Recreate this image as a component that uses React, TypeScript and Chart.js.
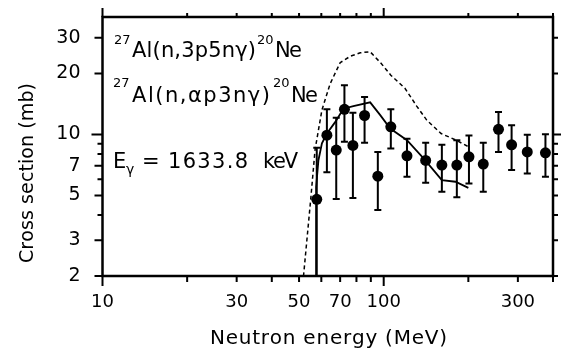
import React, { useEffect, useRef } from 'react';
import { Chart, registerables } from 'chart.js';

Chart.register(...registerables);

// Measured points: neutron energy (MeV), cross section (mb), error bar ends
const energies = [57.8, 62.8, 67.8, 72.5, 77.7, 85.5, 95.3, 106, 121, 141, 161, 182, 201, 226, 256, 285, 324, 376];
const sigma = [4.78, 9.92, 8.37, 13.3, 8.83, 12.4, 6.22, 10.9, 7.84, 7.44, 7.06, 7.06, 7.75, 7.14, 10.6, 8.89, 8.2, 8.11];
const errHigh = [8.6, 13.3, 12.1, 17.5, 12.8, 15.3, 8.2, 13.3, 9.51, 9.1, 8.89, 9.37, 9.89, 9.09, 12.9, 11.1, 9.95, 10.03];
const errLow = [2.0, 6.5, 4.8, 9.2, 4.86, 9.1, 4.23, 8.53, 6.18, 5.77, 5.21, 4.89, 5.73, 5.21, 8.2, 6.67, 6.42, 6.18];

// Calculation for 27Al(n,ap3ng)20Ne (solid)
const calcSolidE = [57.5, 57.5, 58.6, 60.3, 62.8, 67.2, 71.9, 78, 89.5, 97.2, 105.5, 121, 138.6, 161, 180, 200];
const calcSolidS = [1.5, 5.5, 7.46, 9.03, 10.1, 11.5, 13.4, 13.8, 14.4, 12.45, 10.7, 9.37, 7.61, 5.95, 5.84, 5.45];

// Calculation for 27Al(n,3p5ng)20Ne (dashed)
const calcDashE = [51.3, 53.3, 55.1, 57, 60.3, 64.5, 70, 76, 82.5, 89.5, 98, 106, 119, 131, 142, 160, 180, 200];
const calcDashS = [1.7, 3.0, 4.9, 8.4, 13.2, 17.8, 22.6, 24.3, 25.3, 25.6, 22.4, 19.6, 16.9, 13.8, 11.8, 10.1, 9.4, 8.7];

const xTickValues = [10, 20, 30, 40, 50, 60, 70, 80, 90, 100, 200, 300, 400];
const xTickLabels = [10, 30, 50, 70, 100, 300];
const xMajorTicks = [10, 100];
const yTickValues = [2, 3, 4, 5, 6, 7, 8, 9, 10, 20, 30];
const yTickLabels = [2, 3, 5, 7, 10, 20, 30];
const yMajorTicks = [10];

const FONT = "'DejaVu Sans', 'Liberation Sans', sans-serif";

function fitText(ctx: CanvasRenderingContext2D, text: string, x: number, y: number, size: number, width?: number) {
  ctx.font = `${size}px ${FONT}`;
  ctx.textAlign = 'left';
  ctx.textBaseline = 'alphabetic';
  const chars = Array.from(text);
  if (!width || chars.length < 2) {
    ctx.fillText(text, x, y);
    return;
  }
  const widths = chars.map((c) => ctx.measureText(c).width);
  const natural = widths.reduce((a, b) => a + b, 0);
  const extra = (width - natural) / (chars.length - 1);
  let cx = x;
  chars.forEach((c, i) => {
    ctx.fillText(c, cx, y);
    cx += widths[i] + extra;
  });
}

const framePlugin = {
  id: 'framePlugin',
  afterDatasetsDraw(chart: any) {
    const { ctx, chartArea: a, scales } = chart;
    const xs = scales.x;
    const ys = scales.y;
    ctx.save();
    ctx.strokeStyle = '#000';
    ctx.fillStyle = '#000';
    ctx.lineCap = 'butt';

    // error bars
    ctx.lineWidth = 2;
    energies.forEach((e, i) => {
      const px = xs.getPixelForValue(e);
      const yh = ys.getPixelForValue(errHigh[i]);
      const yl = Math.min(ys.getPixelForValue(Math.max(errLow[i], 2)), a.bottom);
      ctx.beginPath();
      ctx.moveTo(px, yh);
      ctx.lineTo(px, yl);
      ctx.moveTo(px - 3.5, yh);
      ctx.lineTo(px + 3.5, yh);
      if (errLow[i] > 2) {
        ctx.moveTo(px - 3.5, yl);
        ctx.lineTo(px + 3.5, yl);
      }
      ctx.stroke();
    });

    // frame
    ctx.lineWidth = 2.5;
    ctx.strokeRect(a.left, a.top, a.right - a.left, a.bottom - a.top);

    // ticks
    ctx.lineWidth = 2;
    ctx.beginPath();
    xTickValues.forEach((v) => {
      const px = xs.getPixelForValue(v);
      const major = xMajorTicks.includes(v);
      ctx.moveTo(px, a.bottom);
      ctx.lineTo(px, a.bottom + (major ? 10 : 6));
      ctx.moveTo(px, a.top);
      ctx.lineTo(px, a.top - (major ? 9 : 4));
    });
    yTickValues.forEach((v) => {
      const py = ys.getPixelForValue(v);
      const major = yMajorTicks.includes(v);
      const labeled = yTickLabels.includes(v);
      ctx.moveTo(a.left, py);
      ctx.lineTo(a.left - (major ? 11 : labeled ? 8 : 5), py);
      ctx.moveTo(a.right, py);
      ctx.lineTo(a.right + (major ? 8 : 5), py);
    });
    ctx.stroke();
    ctx.restore();
  },
  afterDraw(chart: any) {
    const { ctx } = chart;
    ctx.save();
    ctx.fillStyle = '#000';
    // reaction labels
    fitText(ctx, '27', 114, 44, 13);
    fitText(ctx, 'Al(n,3p5n\u03b3)', 132, 57, 21, 124);
    fitText(ctx, '20', 257, 44, 13);
    fitText(ctx, 'Ne', 275, 57, 21, 27);

    fitText(ctx, '27', 113, 87, 13);
    fitText(ctx, 'Al(n,\u03b1p3n\u03b3)', 132, 101.5, 21, 138);
    fitText(ctx, '20', 273, 87, 13);
    fitText(ctx, 'Ne', 291, 101.5, 21, 27);

    fitText(ctx, 'E', 113, 168, 21);
    fitText(ctx, '\u03b3', 126, 174, 14);
    fitText(ctx, '=', 142, 168, 21);
    fitText(ctx, '1633.8', 168, 168, 21, 80);
    fitText(ctx, 'keV', 263, 168, 21, 35);

    // axis titles
    fitText(ctx, 'Neutron energy (MeV)', 210, 344, 20, 237);
    ctx.translate(33, 173);
    ctx.rotate(-Math.PI / 2);
    fitText(ctx, 'Cross section (mb)', -90, 0, 19, 180);
    ctx.restore();
  },
};

export default function App() {
  const ref = useRef<HTMLCanvasElement | null>(null);

  useEffect(() => {
    if (!ref.current) return;
    const points = energies.map((e, i) => ({ x: e, y: sigma[i] }));
    const solid = calcSolidE.map((e, i) => ({ x: e, y: calcSolidS[i] }));
    const dashed = calcDashE.map((e, i) => ({ x: e, y: calcDashS[i] }));

    const chart = new Chart(ref.current, {
      type: 'scatter',
      data: {
        datasets: [
          {
            label: 'data',
            data: points,
            showLine: false,
            pointRadius: 5.5,
            pointBackgroundColor: '#000',
            pointBorderColor: '#000',
            pointBorderWidth: 0,
          },
          {
            label: 'calc (n,ap3ng)',
            data: solid,
            showLine: true,
            borderColor: '#000',
            borderWidth: 1.8,
            pointRadius: 0,
            tension: 0,
          },
          {
            label: 'calc (n,3p5ng)',
            data: dashed,
            showLine: true,
            borderColor: '#000',
            borderWidth: 1.5,
            borderDash: [4, 3],
            pointRadius: 0,
            tension: 0,
          },
        ],
      },
      options: {
        responsive: false,
        animation: false,
        layout: { padding: { left: 0, right: 8, top: 17, bottom: 0 } },
        plugins: { legend: { display: false }, tooltip: { enabled: false } },
        scales: {
          x: {
            type: 'logarithmic',
            position: 'bottom',
            min: 10,
            max: 400,
            grid: { display: false, drawTicks: false },
            border: { display: false },
            ticks: {
              autoSkip: false,
              maxRotation: 0,
              padding: 16,
              color: '#000',
              font: { family: FONT, size: 18 },
              callback: (v: any) => (xTickLabels.includes(Number(v)) ? String(v) : ''),
            },
            afterBuildTicks: (s: any) => {
              s.ticks = xTickValues.map((v) => ({ value: v }));
            },
            afterFit: (s: any) => {
              s.height = 84;
              s.paddingLeft = 0;
              s.paddingRight = 0;
              s.paddingTop = 0;
              s.paddingBottom = 0;
            },
          },
          y: {
            type: 'logarithmic',
            position: 'left',
            min: 2,
            max: 38,
            grid: { display: false, drawTicks: false },
            border: { display: false },
            ticks: {
              autoSkip: false,
              padding: 22,
              color: '#000',
              font: { family: FONT, size: 19 },
              callback: (v: any) => (yTickLabels.includes(Number(v)) ? String(v) : ''),
            },
            afterBuildTicks: (s: any) => {
              s.ticks = yTickValues.map((v) => ({ value: v }));
            },
            afterFit: (s: any) => {
              s.width = 102.5;
              s.paddingLeft = 0;
              s.paddingRight = 0;
              s.paddingTop = 0;
              s.paddingBottom = 0;
            },
          },
        },
      },
      plugins: [framePlugin],
    });
    return () => chart.destroy();
  }, []);

  return (
    <div style={{ position: 'absolute', left: 0, top: 0, width: 561, height: 360, background: '#fff' }}>
      <canvas ref={ref} width={561} height={360} style={{ display: 'block' }} />
    </div>
  );
}
